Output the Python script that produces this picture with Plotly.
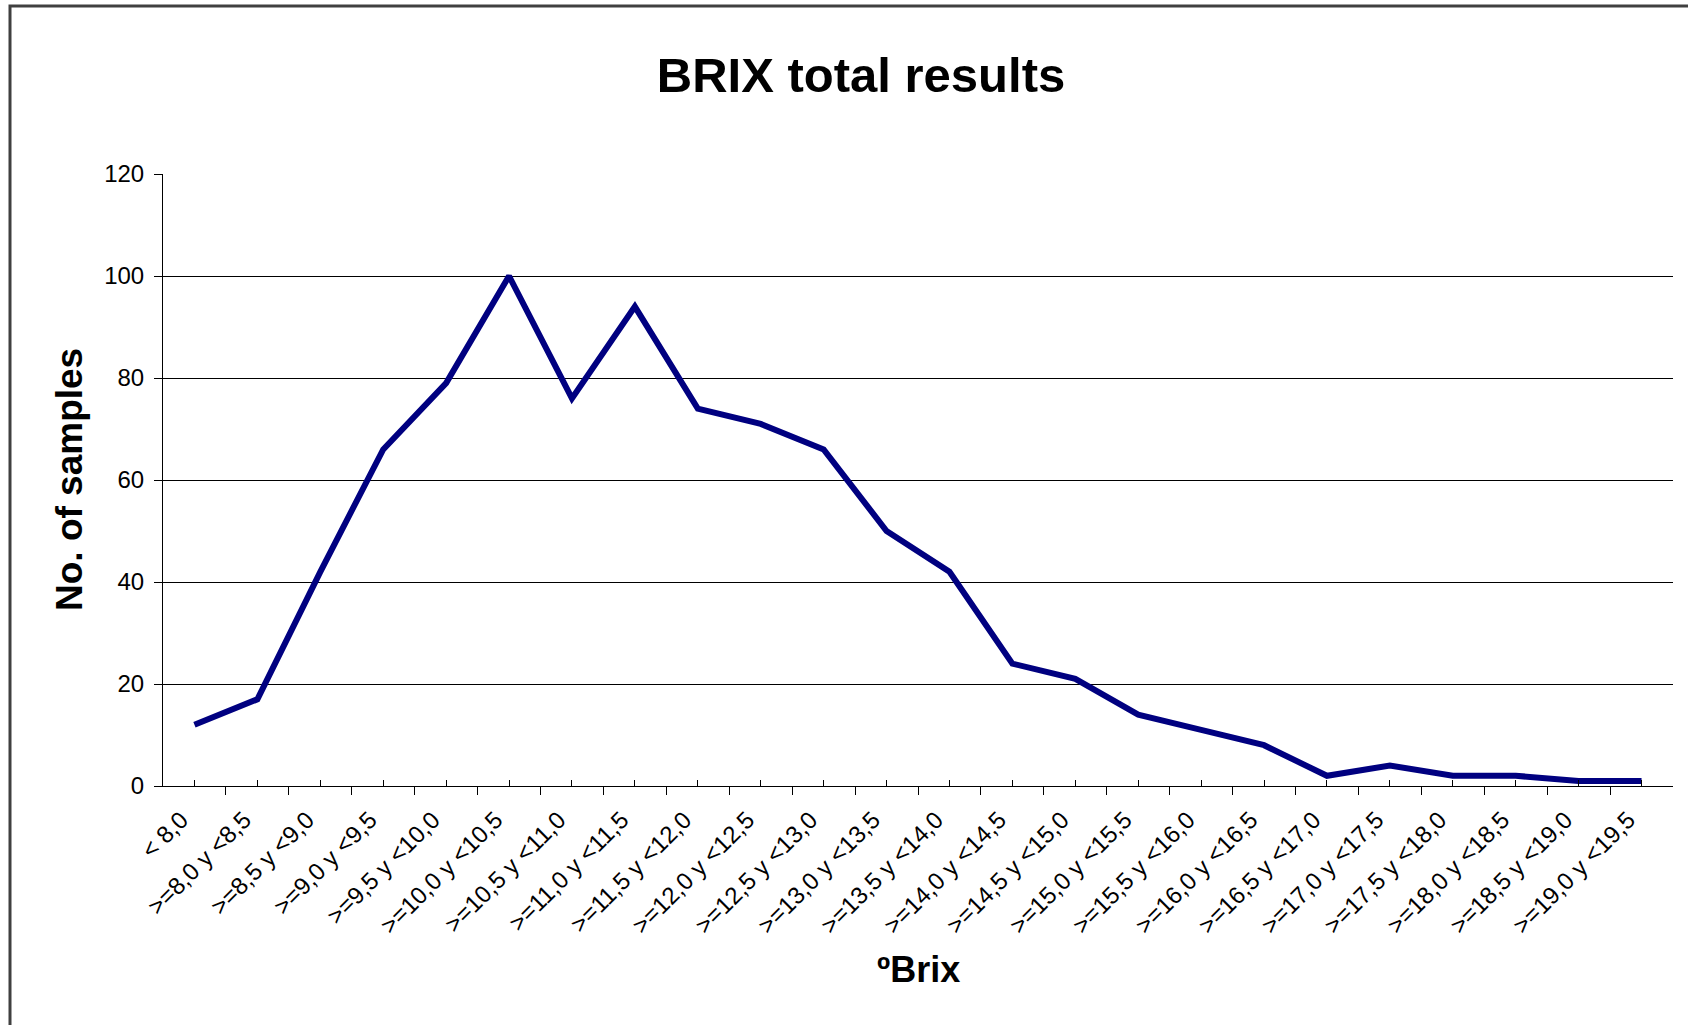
import plotly.graph_objects as go

categories = ["< 8,0", ">=8,0 y <8,5", ">=8,5 y <9,0", ">=9,0 y <9,5", ">=9,5 y <10,0",
              ">=10,0 y <10,5", ">=10,5 y <11,0", ">=11,0 y <11,5", ">=11,5 y <12,0",
              ">=12,0 y <12,5", ">=12,5 y <13,0", ">=13,0 y <13,5", ">=13,5 y <14,0",
              ">=14,0 y <14,5", ">=14,5 y <15,0", ">=15,0 y <15,5", ">=15,5 y <16,0",
              ">=16,0 y <16,5", ">=16,5 y <17,0", ">=17,0 y <17,5", ">=17,5 y <18,0",
              ">=18,0 y <18,5", ">=18,5 y <19,0", ">=19,0 y <19,5"]
samples = [12, 17, 42, 66, 79, 100, 76, 94, 74, 71, 66, 50, 42, 24, 21, 14, 11, 8, 2, 4, 2, 2, 1, 1]
y_ticks = [0, 20, 40, 60, 80, 100, 120]
grid_vals = [20, 40, 60, 80, 100]

x_idx = list(range(len(categories)))
boundaries = [i - 0.5 for i in range(len(categories) + 1)]
label_pos = [i - 0.21 for i in x_idx]
x_range = [-0.5, len(categories) - 0.5]

FONT = "Liberation Sans, Arial, sans-serif"

fig = go.Figure()
fig.add_trace(go.Scatter(
    x=x_idx, y=samples, mode="lines",
    line=dict(color="#000080", width=6),
    hoverinfo="skip", showlegend=False,
))

fig.update_layout(
    width=1688, height=1025,
    margin=dict(l=163, r=15, t=174, b=239),
    paper_bgcolor="white", plot_bgcolor="white",
    font=dict(family=FONT, color="black", size=24),
    title=dict(text="<b>BRIX total results</b>", x=861 / 1688, xanchor="center",
               y=1 - 75 / 1025, yanchor="middle", yref="container",
               font=dict(family=FONT, size=49, color="black")),
    xaxis=dict(
        range=x_range,
        tickmode="array", tickvals=x_idx, showticklabels=False,
        ticks="inside", ticklen=6, tickcolor="black", tickwidth=1,
        showline=True, linecolor="black", linewidth=1,
        showgrid=False, zeroline=False,
        minor=dict(tickmode="array", tickvals=boundaries, ticks="outside",
                   ticklen=8, tickcolor="black", tickwidth=1, showgrid=False),
    ),
    xaxis2=dict(
        range=x_range, overlaying="x", anchor="y", side="bottom",
        tickmode="array", tickvals=label_pos, ticktext=categories,
        tickangle=-45, ticks="", ticklabelstandoff=14,
        showline=False, showgrid=False, zeroline=False,
        tickfont=dict(family=FONT, size=24, color="black"),
    ),
    yaxis=dict(
        range=[0, 120],
        tickmode="array", tickvals=y_ticks,
        ticks="outside", ticklen=8, tickcolor="black", tickwidth=1,
        ticklabelstandoff=5,
        showline=True, linecolor="black", linewidth=1,
        showgrid=False, zeroline=False,
        tickfont=dict(family=FONT, size=24, color="black"),
        minor=dict(tickmode="array", tickvals=grid_vals, ticks="",
                   showgrid=True, gridcolor="black", gridwidth=1),
    ),
    annotations=[
        dict(text="<b>No. of samples</b>", xref="paper", yref="paper",
             x=(69 - 163) / 1510, y=0.5, xanchor="center", yanchor="middle",
             textangle=-90, showarrow=False,
             font=dict(family=FONT, size=37, color="black")),
        dict(text="<b>ºBrix</b>", xref="paper", yref="paper",
             x=0.5, y=(786 - 969) / 612, xanchor="center", yanchor="middle",
             showarrow=False,
             font=dict(family=FONT, size=36, color="black")),
    ],
    shapes=[
        dict(type="rect", xref="paper", yref="paper",
             x0=(10 - 163) / 1510, x1=2.0, y0=-1.0, y1=(786 - 6) / 612,
             line=dict(color="#404040", width=3), fillcolor="rgba(0,0,0,0)",
             layer="below"),
    ],
)

# invisible helper trace so the label axis is drawn
fig.add_trace(go.Scatter(x=[x_range[0]], y=[0], xaxis="x2", yaxis="y",
                         mode="markers", marker=dict(opacity=0),
                         hoverinfo="skip", showlegend=False))

fig.write_html("out.html", config={"displayModeBar": False},
               post_script="document.body.style.margin='0';")
